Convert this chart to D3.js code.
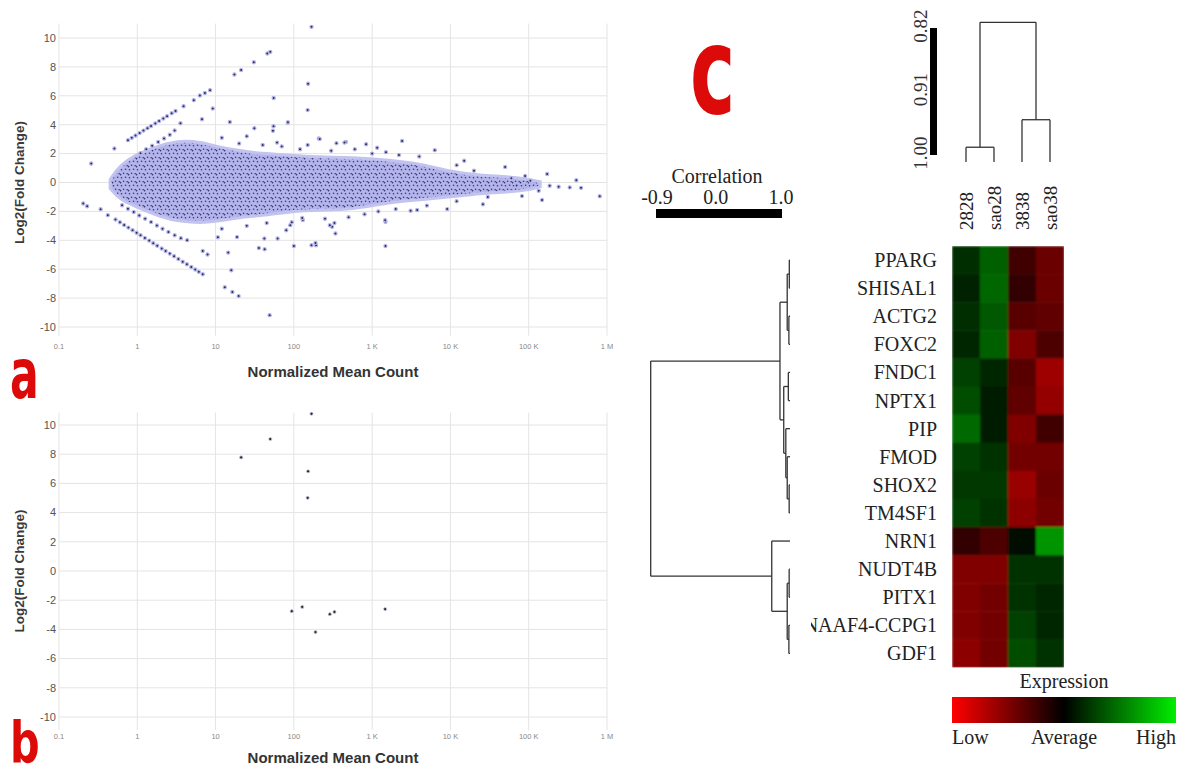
<!DOCTYPE html>
<html>
<head>
<meta charset="utf-8">
<script src="https://cdn.jsdelivr.net/npm/d3@7"></script>
<style>
  body { margin: 0; background: #fff; }
  svg { display: block; }
</style>
</head>
<body>
<div id="chart"></div>
<script>
// ---------- MA plots (a, b) ----------
// significant genes: [normalized mean count, log2 fold change]
const sigPoints = [
  [168, 10.77], [50, 9.04], [21.2, 7.78], [152, 6.83], [150, 5.01],
  [94, -2.75], [128, -2.46], [189, -4.18], [288, -2.96], [330, -2.8], [1466, -2.61]
];

// outline of the dense cloud of genes in panel a
const cloudCount = [0.45, 0.6, 1, 2, 3.6, 6.4, 10, 21, 37, 90, 220, 525, 1700, 4100, 10000, 24000, 58000, 105000, 140000];
const cloudUpper = [0.2, 1.2, 2.0, 2.6, 2.9, 2.8, 2.5, 2.2, 2.0, 1.9, 1.75, 1.75, 1.55, 1.3, 0.75, 0.5, 0.4, 0.2, 0.05];
const cloudLower = [-0.4, -1.2, -1.7, -2.4, -2.7, -2.8, -2.7, -2.4, -2.3, -2.0, -1.9, -1.9, -1.35, -1.2, -1.0, -0.75, -0.65, -0.5, -0.3];

// genes scattered outside the dense cloud (panel a)
const fanUpper = [
  [0.76, 2.93], [0.85, 3.09], [0.95, 3.25], [1.07, 3.42], [1.2, 3.59], [1.35, 3.76], [1.5, 3.91],
  [1.7, 4.09], [1.9, 4.25], [2.15, 4.43], [2.4, 4.59], [2.75, 4.79], [3.08, 4.95], [3.9, 5.28],
  [5.27, 5.7], [6.3, 6.02], [7.3, 6.2], [8.5, 6.39],
  [1.1, 2.03], [1.3, 2.3], [1.55, 2.55], [1.85, 2.8], [2.2, 3.05], [2.6, 3.3], [3.0, 3.6], [3.56, 4.1]
];
const fanLower = [
  [0.527, -2.56], [0.6, -2.75], [0.68, -2.94], [0.77, -3.12], [0.87, -3.3], [0.98, -3.48], [1.1, -3.65],
  [1.25, -3.84], [1.42, -4.02], [1.6, -4.2], [1.8, -4.37], [2.05, -4.57], [2.3, -4.74], [2.6, -4.92],
  [2.95, -5.1], [3.35, -5.29], [3.8, -5.48], [4.3, -5.66], [4.9, -5.85], [5.5, -6.02], [6.1, -6.18], [6.85, -6.35],
  [0.64, -1.57], [0.76, -1.82], [0.9, -2.05], [1.06, -2.28], [1.26, -2.5], [1.5, -2.74], [1.78, -2.98],
  [2.1, -3.2], [2.5, -3.42], [3.0, -3.65], [3.6, -3.85], [4.34, -3.99]
];
const strayPoints = [
  [0.204, -1.45], [0.229, -1.64], [0.34, -1.85], [0.42, -2.26], [0.258, 1.31], [0.51, 2.35],
  [17.4, 7.47], [30.8, 8.32], [45.8, 8.93],
  [9.2, 5.12], [15.2, 4.19], [55.2, 5.85], [31.3, 3.75], [83.6, 4.14], [55, 3.9], [54, 3.58], [6.7, 4.38],
  [2415, 2.88], [6300, 2.24], [208, 3.05], [460, 2.81], [214, 3.01], [443, 2.76], [350, 2.72], [84, 4.17],
  [61, 2.76], [838, 2.65], [1160, 2.41],
  [6.85, -4.74], [7.9, -4.98], [13.1, -7.25], [16.4, -7.57], [19.7, -7.86], [49, -9.18], [14.5, -4.85],
  [15.9, -6.07], [10.7, -3.79], [35.7, -4.53], [42.3, -4.62], [42, -3.88], [18.8, -3.78], [62, -3.88],
  [100, -4.39], [168, -4.34], [192, -4.34], [1480, -4.4], [1480, -2.72], [3100, -1.95], [3760, -1.9],
  [9100, -1.84], [2000, -1.84], [308, -3.07], [340, -3.53], [90, -2.95], [26000, -1.51], [148000, -1.21],
  [807000, -0.95], [406000, 0.16], [466000, -0.37], [334000, -0.34], [241000, -0.29], [185000, -0.22],
  [172000, 0.59], [134000, -0.57], [105000, 0.12], [82000, -0.94], [50000, 1.08], [20000, 0.82],
  [60000, 0.3], [70000, -0.2], [90000, 0.45],
  [12, 3.1], [20, 2.7], [25, 3.2], [40, 2.6], [70, 2.5], [120, 2.3], [150, 2.6], [300, 2.2], [600, 2.3],
  [1000, 2.0], [1500, 2.1], [2200, 1.9], [4000, 1.8], [12000, 1.2], [15000, 1.5],
  [12, -3.2], [25, -3.0], [45, -2.8], [80, -3.3], [130, -2.6], [250, -2.5], [500, -2.4], [800, -2.2],
  [1200, -2.0], [5000, -1.6], [12000, -1.3], [30000, -1.0]
];

const xTickValues = [0.1, 1, 10, 100, 1000, 10000, 100000, 1000000];
const xTickLabels = ["0.1", "1", "10", "100", "1 K", "10 K", "100 K", "1 M"];
const yTickValues = [-10, -8, -6, -4, -2, 0, 2, 4, 6, 8, 10];

// ---------- heatmap (c) ----------
const genes = ["PPARG", "SHISAL1", "ACTG2", "FOXC2", "FNDC1", "NPTX1", "PIP", "FMOD", "SHOX2",
  "TM4SF1", "NRN1", "NUDT4B", "PITX1", "DNAAF4-CCPG1", "GDF1"];
const samples = ["2828", "sao28", "3838", "sao38"];
const expression = [
  [0.18, 0.38, -0.25, -0.42],
  [0.14, 0.4, -0.2, -0.42],
  [0.18, 0.35, -0.35, -0.38],
  [0.15, 0.38, -0.5, -0.3],
  [0.25, 0.15, -0.35, -0.62],
  [0.3, 0.12, -0.38, -0.58],
  [0.42, 0.12, -0.5, -0.25],
  [0.25, 0.2, -0.45, -0.45],
  [0.22, 0.22, -0.6, -0.42],
  [0.25, 0.2, -0.55, -0.45],
  [-0.2, -0.3, 0.05, 0.58],
  [-0.5, -0.5, 0.2, 0.2],
  [-0.5, -0.45, 0.2, 0.15],
  [-0.5, -0.45, 0.25, 0.15],
  [-0.55, -0.45, 0.3, 0.2]
];
const expressionLabels = ["Low", "Average", "High"];

// column clustering, merge heights on the correlation scale
const colTree = { h: 0.812, c: [{ h: 0.989, c: [0, 1] }, { h: 0.95, c: [2, 3] }] };
const colTicks = [0.82, 0.91, 1.00];
const corrTicks = [-0.9, 0.0, 1.0];

// row clustering, merge heights as distance
const rowTree = { h: 1.0, c: [
  { h: 0.072, c: [
    { h: 0.02, c: [{ h: 0.005, c: [0, 1] }, { h: 0.008, c: [2, 3] }] },
    { h: 0.045, c: [{ h: 0.012, c: [4, 5] }, { h: 0.03, c: [6, { h: 0.02, c: [7, { h: 0.006, c: [8, 9] }] }] }] }
  ] },
  { h: 0.131, c: [10, { h: 0.02, c: [{ h: 0.006, c: [11, 12] }, { h: 0.008, c: [13, 14] }] }] }
] };

const W = 1192, H = 776;
const svg = d3.select("#chart").append("svg").attr("width", W).attr("height", H);
svg.append("rect").attr("width", W).attr("height", H).attr("fill", "#fff");
const defs = svg.append("defs");

// dotted texture for the dense gene cloud
const pat = defs.append("pattern").attr("id", "cloudDots")
  .attr("width", 8).attr("height", 8).attr("patternUnits", "userSpaceOnUse");
pat.append("rect").attr("width", 8).attr("height", 8).attr("fill", "#b3b4ec");
[[1.5, 1.8], [5.6, 1.2], [3.6, 5.2], [7.2, 5.8], [0.6, 6.6]].forEach(d => {
  pat.append("circle").attr("cx", d[0]).attr("cy", d[1]).attr("r", 0.8).attr("fill", "#34356c");
});

const x = d3.scaleLog().domain([0.1, 1e6]).range([59, 607]);

function drawMA(cfg) {
  const g = svg.append("g");
  const y = d3.scaleLinear().domain([-10, 10]).range([cfg.yLow, cfg.yHigh]);

  g.selectAll(".vgrid").data(xTickValues).enter().append("line")
    .attr("x1", d => x(d)).attr("x2", d => x(d))
    .attr("y1", y(cfg.gridTop)).attr("y2", y(cfg.gridBottom))
    .attr("stroke", "#e4e4e4").attr("stroke-width", 1);
  g.selectAll(".hgrid").data(yTickValues).enter().append("line")
    .attr("x1", x(0.1)).attr("x2", x(1e6))
    .attr("y1", d => y(d)).attr("y2", d => y(d))
    .attr("stroke", "#e4e4e4").attr("stroke-width", 1);

  g.selectAll(".ylab").data(yTickValues).enter().append("text")
    .attr("x", 56).attr("y", d => y(d)).attr("dy", "0.35em")
    .attr("text-anchor", "end").attr("font-family", "Liberation Sans, Arial, sans-serif")
    .attr("font-size", 11).attr("fill", "#555").text(d => d);
  g.selectAll(".xlab").data(xTickValues).enter().append("text")
    .attr("x", d => x(d)).attr("y", cfg.xTickY)
    .attr("text-anchor", "middle").attr("font-family", "Liberation Sans, Arial, sans-serif")
    .attr("font-size", 7.5).attr("fill", "#888").text((d, i) => xTickLabels[i]);

  g.append("text")
    .attr("transform", "translate(24," + y(0) + ")rotate(-90)")
    .attr("text-anchor", "middle").attr("font-family", "Liberation Sans, Arial, sans-serif")
    .attr("font-weight", "bold").attr("font-size", 13.5).attr("fill", "#3a3a3a")
    .text("Log2(Fold Change)");
  g.append("text")
    .attr("x", 333).attr("y", cfg.titleY).attr("text-anchor", "middle")
    .attr("font-family", "Liberation Sans, Arial, sans-serif")
    .attr("font-weight", "bold").attr("font-size", 15).attr("fill", "#333")
    .text("Normalized Mean Count");

  if (cfg.cloud) {
    const area = d3.area()
      .x((d, i) => x(cloudCount[i]))
      .y0((d, i) => y(cloudLower[i]))
      .y1((d, i) => y(cloudUpper[i]))
      .curve(d3.curveBasis);
    g.append("path").datum(cloudCount).attr("d", area)
      .attr("fill", "url(#cloudDots)").attr("stroke", "#c2c3ef").attr("stroke-width", 3);

    g.selectAll(".loose").data(fanUpper.concat(fanLower, strayPoints, sigPoints)).enter().append("circle")
      .attr("cx", d => x(d[0])).attr("cy", d => y(d[1])).attr("r", 1.6)
      .attr("fill", "#2b2b5c").attr("stroke", "#b4b6ea").attr("stroke-width", 1.2);
  } else {
    g.selectAll(".sig").data(sigPoints).enter().append("circle")
      .attr("cx", d => x(d[0])).attr("cy", d => y(d[1])).attr("r", 1.6)
      .attr("fill", "#2a2a2a").attr("stroke", "#cfcfe6").attr("stroke-width", 0.8);
  }
}

drawMA({ yHigh: 38, yLow: 327, gridTop: 11, gridBottom: -10.6, xTickY: 349, titleY: 377, cloud: true });
drawMA({ yHigh: 425, yLow: 717, gridTop: 10.85, gridBottom: -10.9, xTickY: 739, titleY: 763, cloud: false });

// red panel letters
function panelLetter(ch, tx, ty, size, sx, sy) {
  svg.append("text").attr("transform", "translate(" + tx + "," + ty + ")scale(" + sx + "," + sy + ")")
    .attr("font-family", "DejaVu Sans, sans-serif").attr("font-weight", "bold")
    .attr("font-size", size).attr("fill", "#dd0a0a").text(ch);
}
panelLetter("a", 10, 398, 50, 0.85, 1.4);
panelLetter("b", 10, 762, 46, 0.9, 1.25);
panelLetter("c", 690, 113, 90, 0.85, 1.35);

// ---------- panel c ----------
const serif = "Liberation Serif, Times New Roman, serif";
const hx = d3.scaleBand().domain(samples).range([952, 1064]);
const hy = d3.scaleBand().domain(genes).range([246, 667.5]);
const heatColor = d3.scaleLinear().domain([-1, 0, 1]).range(["#ff0000", "#000000", "#00ff00"]);

defs.append("clipPath").attr("id", "heatClip").append("rect")
  .attr("x", 952).attr("y", 246).attr("width", 112).attr("height", 421.5);
const soft = defs.append("filter").attr("id", "soft");
soft.append("feGaussianBlur").attr("stdDeviation", 1.3).attr("edgeMode", "duplicate");

const heat = svg.append("g").attr("clip-path", "url(#heatClip)").append("g").attr("filter", "url(#soft)");
genes.forEach((gene, r) => {
  samples.forEach((s, c) => {
    heat.append("rect").attr("x", hx(s)).attr("y", hy(gene))
      .attr("width", hx.bandwidth() + 0.5).attr("height", hy.bandwidth() + 0.5)
      .attr("fill", heatColor(expression[r][c]));
  });
});

// row labels (the long one is cut by the dendrogram area)
defs.append("clipPath").attr("id", "labelClip").append("rect")
  .attr("x", 811).attr("y", 240).attr("width", 137).attr("height", 440);
svg.append("g").attr("clip-path", "url(#labelClip)")
  .selectAll("text").data(genes).enter().append("text")
  .attr("x", 937).attr("y", d => hy(d) + hy.bandwidth() / 2).attr("dy", "0.35em")
  .attr("text-anchor", "end").attr("font-family", serif).attr("font-size", 20)
  .attr("fill", "#222").text(d => d);

// column labels
svg.selectAll(".colLab").data(samples).enter().append("text")
  .attr("transform", d => "translate(" + (hx(d) + hx.bandwidth() / 2 + 7) + ",230)rotate(-90)")
  .attr("font-family", serif).attr("font-size", 19).attr("fill", "#222").text(d => d);

// column dendrogram
const cy = d3.scaleLinear().domain([1.0, 0.82]).range([155, 28]);
const colLeafValue = 1.01;
const lineColor = "#333";
function drawCol(node) {
  if (typeof node === "number") return { pos: hx(samples[node]) + hx.bandwidth() / 2, v: colLeafValue };
  const kids = node.c.map(drawCol);
  kids.forEach(k => {
    svg.append("line").attr("x1", k.pos).attr("x2", k.pos).attr("y1", cy(k.v)).attr("y2", cy(node.h))
      .attr("stroke", lineColor).attr("stroke-width", 1.3);
  });
  svg.append("line").attr("x1", kids[0].pos).attr("x2", kids[1].pos).attr("y1", cy(node.h)).attr("y2", cy(node.h))
    .attr("stroke", lineColor).attr("stroke-width", 1.3);
  return { pos: (kids[0].pos + kids[1].pos) / 2, v: node.h };
}
drawCol(colTree);

svg.append("rect").attr("x", 930).attr("y", cy(0.82)).attr("width", 7).attr("height", cy(1.0) - cy(0.82))
  .attr("fill", "#000");
svg.selectAll(".colTick").data(colTicks).enter().append("text")
  .attr("transform", d => "translate(927," + (cy(d) - 2) + ")rotate(-90)")
  .attr("text-anchor", "middle").attr("font-family", serif).attr("font-size", 19)
  .attr("fill", "#333").text(d => d.toFixed(2));

// row dendrogram
const rx = d3.scaleLinear().domain([0, 1]).range([790, 650.7]);
function drawRow(node) {
  if (typeof node === "number") return { pos: hy(genes[node]) + hy.bandwidth() / 2, h: 0 };
  const kids = node.c.map(drawRow);
  kids.forEach(k => {
    svg.append("line").attr("x1", rx(k.h)).attr("x2", rx(node.h)).attr("y1", k.pos).attr("y2", k.pos)
      .attr("stroke", lineColor).attr("stroke-width", 1.3);
  });
  svg.append("line").attr("x1", rx(node.h)).attr("x2", rx(node.h)).attr("y1", kids[0].pos).attr("y2", kids[1].pos)
    .attr("stroke", lineColor).attr("stroke-width", 1.3);
  return { pos: (kids[0].pos + kids[1].pos) / 2, h: node.h };
}
drawRow(rowTree);

// correlation key
const corrX = d3.scaleLinear().domain([-0.9, 1.0]).range([657, 781]);
svg.append("text").attr("x", 717).attr("y", 183).attr("text-anchor", "middle")
  .attr("font-family", serif).attr("font-size", 20).attr("fill", "#222").text("Correlation");
svg.selectAll(".corrTick").data(corrTicks).enter().append("text")
  .attr("x", d => corrX(d)).attr("y", 204).attr("text-anchor", "middle")
  .attr("font-family", serif).attr("font-size", 20).attr("fill", "#222").text(d => d.toFixed(1));
svg.append("rect").attr("x", corrX(-0.9) - 1).attr("y", 209)
  .attr("width", corrX(1.0) - corrX(-0.9) + 2).attr("height", 9).attr("fill", "#000");

// expression key
const grad = defs.append("linearGradient").attr("id", "exprGrad");
grad.append("stop").attr("offset", "0%").attr("stop-color", "#ff0000");
grad.append("stop").attr("offset", "50%").attr("stop-color", "#000000");
grad.append("stop").attr("offset", "100%").attr("stop-color", "#00ee00");
svg.append("text").attr("x", 1064).attr("y", 688).attr("text-anchor", "middle")
  .attr("font-family", serif).attr("font-size", 20).attr("fill", "#222").text("Expression");
svg.append("rect").attr("x", 952).attr("y", 697).attr("width", 224).attr("height", 26)
  .attr("fill", "url(#exprGrad)");
const keyX = d3.scalePoint().domain(expressionLabels).range([952, 1176]);
const keyAnchor = ["start", "middle", "end"];
svg.selectAll(".keyLab").data(expressionLabels).enter().append("text")
  .attr("x", d => keyX(d)).attr("y", 744).attr("text-anchor", (d, i) => keyAnchor[i])
  .attr("font-family", serif).attr("font-size", 20).attr("fill", "#222").text(d => d);
</script>
</body>
</html>
